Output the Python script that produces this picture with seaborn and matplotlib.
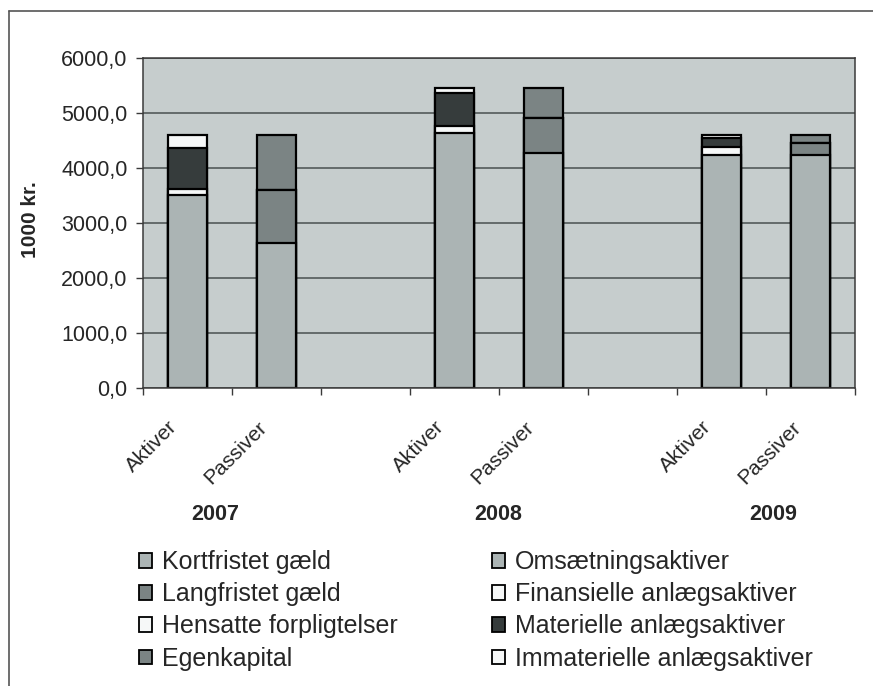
import matplotlib
matplotlib.use("Agg")
import matplotlib.pyplot as plt
import matplotlib.transforms as mtrans
from matplotlib.patches import Patch
from matplotlib.lines import Line2D
from matplotlib.ticker import FuncFormatter
import numpy as np
import pandas as pd
import seaborn as sns

years = ["2007", "2008", "2009"]

# Aktiver, 1000 kr.
omsaetningsaktiver = [3510, 4640, 4230]
finansielle = [110, 120, 160]
materielle = [740, 600, 150]
immaterielle = [240, 90, 60]

# Passiver, 1000 kr.
kortfristet = [2640, 4270, 4230]
langfristet = [960, 640, 230]
hensatte = [0, 0, 0]
egenkapital = [1000, 540, 140]

aktiver_series = {
    "Omsætningsaktiver": omsaetningsaktiver,
    "Finansielle anlægsaktiver": finansielle,
    "Materielle anlægsaktiver": materielle,
    "Immaterielle anlægsaktiver": immaterielle,
}
passiver_series = {
    "Kortfristet gæld": kortfristet,
    "Langfristet gæld": langfristet,
    "Hensatte forpligtelser": hensatte,
    "Egenkapital": egenkapital,
}

LIGHT = "#abb4b4"
MID = "#7b8484"
DARK = "#363c3c"
WHITE = "#f6f8f8"
colors = {
    "Omsætningsaktiver": LIGHT,
    "Finansielle anlægsaktiver": WHITE,
    "Materielle anlægsaktiver": DARK,
    "Immaterielle anlægsaktiver": WHITE,
    "Kortfristet gæld": LIGHT,
    "Langfristet gæld": MID,
    "Hensatte forpligtelser": WHITE,
    "Egenkapital": MID,
}

# slot order with an empty slot between the years
order = []
for i, y in enumerate(years):
    order += [y + " Aktiver", y + " Passiver"]
    if i < len(years) - 1:
        order.append("gap" + str(i))

rows = []
for side, series in [("Aktiver", aktiver_series), ("Passiver", passiver_series)]:
    for i, y in enumerate(years):
        for k, (name, vals) in enumerate(series.items()):
            rows.append({"slot": y + " " + side, "side": side, "serie": name,
                         "level": k, "value": vals[i]})
df = pd.DataFrame(rows).sort_values(["slot", "level"])
df["top"] = df.groupby("slot")["value"].cumsum()

sns.set_theme(style="white")
plt.rcParams["font.family"] = ["Liberation Sans", "DejaVu Sans"]

fig = plt.figure(figsize=(8.73, 6.86), dpi=100)
ax = fig.add_axes([143 / 873, 1 - 388 / 686, 712 / 873, 330 / 686])
ax.set_facecolor("#c6cdcd")

# stacked bars: draw cumulative totals from the top layer down
for series in [aktiver_series, passiver_series]:
    for name in reversed(list(series.keys())):
        sub = df[df["serie"] == name]
        sns.barplot(data=sub, x="slot", y="top", order=order, color=colors[name],
                    saturation=1, width=0.43, edgecolor="black", linewidth=1.6,
                    errorbar=None, ax=ax)

ax.set_ylim(0, 6000)
ax.set_yticks(np.arange(0, 6001, 1000))
ax.yaxis.set_major_formatter(FuncFormatter(lambda v, p: f"{v:.1f}".replace(".", ",")))
ax.yaxis.grid(True, color="#4a5050", linewidth=1.1)
ax.set_axisbelow(True)
for s in ax.spines.values():
    s.set_color("#3a3a3a")
    s.set_linewidth(1.1)

ax.set_xlim(-0.5, len(order) - 0.5)
ax.set_xticks(np.arange(-0.5, len(order), 1.0))
ax.set_xticklabels([])
centers = [order.index(s) for s in order if not s.startswith("gap")]
labels = [s.split(" ")[1] for s in order if not s.startswith("gap")]
ax.set_xticks(centers, labels, minor=True)
ax.tick_params(axis="x", which="major", length=5, width=1, color="#3a3a3a", direction="out")
ax.tick_params(axis="x", which="minor", length=0, pad=26, labelsize=15)
ax.tick_params(axis="y", length=5, width=1, color="#3a3a3a", direction="out", labelsize=15.5, pad=6)
ax.tick_params(bottom=True, left=True)
shift = mtrans.ScaledTranslation(-13 / 100, 0, fig.dpi_scale_trans)
for lab in ax.get_xticklabels(minor=True):
    lab.set_rotation(45)
    lab.set_rotation_mode("anchor")
    lab.set_ha("right")
    lab.set_va("center")
    lab.set_transform(lab.get_transform() + shift)

ax.set_xlabel("")
ax.set_ylabel("1000 kr.", fontsize=15, fontweight="bold")
ax.yaxis.set_label_coords(-0.145, 0.51)

# year labels under each pair
label_shift = [-0.19, -0.01, 0.08]
trans = mtrans.blended_transform_factory(ax.transData, ax.transAxes)
for i, y in enumerate(years):
    xc = order.index(y + " Aktiver") + 0.5 + label_shift[i]
    ax.text(xc, -0.382, y, transform=trans, ha="center", va="center",
            fontsize=15.5, fontweight="bold")

# legend in two columns
def handles(series):
    return [Patch(facecolor=colors[n], edgecolor="black", linewidth=1.3) for n in series]

leg_kw = dict(frameon=False, fontsize=18, handlelength=0.53, handleheight=0.53,
              handletextpad=0.38, labelspacing=0.33, borderpad=0, borderaxespad=0,
              loc="upper left")
leg1 = fig.legend(handles(passiver_series), list(passiver_series.keys()),
                  bbox_to_anchor=(139 / 873, 1 - 550 / 686), **leg_kw)
leg2 = fig.legend(handles(aktiver_series), list(aktiver_series.keys()),
                  bbox_to_anchor=(492 / 873, 1 - 550 / 686), **leg_kw)

# outer chart frame (left and top edges visible in the scan)
fig.add_artist(Line2D([9 / 873, 9 / 873], [0, 1 - 11 / 686], transform=fig.transFigure,
                      color="#555555", linewidth=1.2))
fig.add_artist(Line2D([9 / 873, 1], [1 - 11 / 686, 1 - 11 / 686], transform=fig.transFigure,
                      color="#555555", linewidth=1.2))

fig.savefig("out.png", dpi=100)
